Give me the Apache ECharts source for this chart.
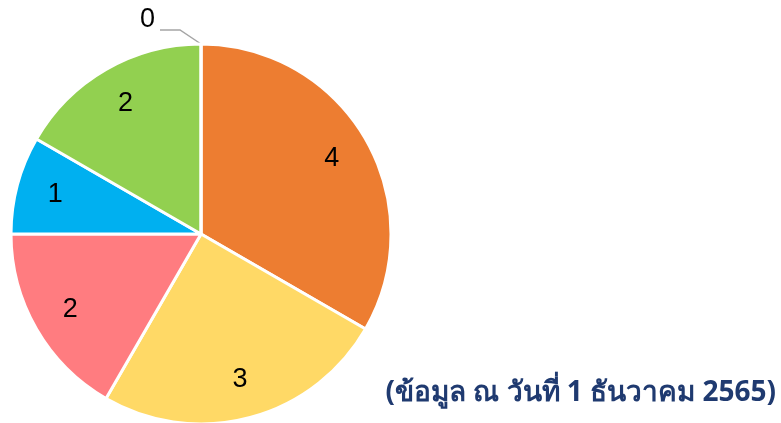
<!DOCTYPE html>
<html><head><meta charset="utf-8">
<script src="https://cdn.jsdelivr.net/npm/echarts@6/dist/echarts.min.js"></script>
<style>html,body{margin:0;padding:0;background:#fff}#c{width:781px;height:423px}</style>
</head><body><div id="c"></div>
<script>
const categories = ['A', 'B', 'C', 'D', 'E', 'F'];
const values = [4, 3, 2, 1, 2, 0];
const colors = ['#ED7D31', '#FFD966', '#FF7C80', '#00B0F0', '#92D050', '#A5A5A5'];
const note = '(ข้อมูล ณ วันที่ 1 ธันวาคม 2565)';

const chart = echarts.init(document.getElementById('c'));
const mainData = categories.map((c, i) => ({
  name: c, value: values[i],
  itemStyle: { color: colors[i] },
  label: values[i] === 0 ? { show: true } : { show: false },
  labelLine: values[i] === 0 ? { show: true } : { show: false }
}));
const overlayData = categories.map((c, i) => ({
  name: c, value: values[i],
  label: { show: values[i] !== 0 }
}));
const lblFont = 'Liberation Sans, Arial, sans-serif';
chart.setOption({
  animation: false,
  graphic: [{
    type: 'text', right: 5, top: 379,
    style: { text: note, fill: '#1F3A70', font: 'bold 28px Tahoma, "Noto Sans", "DejaVu Sans", sans-serif' }
  }],
  series: [{
    type: 'pie', center: [201, 234], radius: [0, 190], startAngle: 90, clockwise: true,
    data: mainData,
    itemStyle: { borderColor: '#fff', borderWidth: 3 },
    label: { position: 'outside', color: '#000', fontSize: 27, fontFamily: lblFont, formatter: '{c}' },
    labelLine: { length: 14, length2: 20, lineStyle: { color: '#A5A5A5', width: 1.5 } },
    labelLayout: function (p) {
      if (!p.labelLinePoints) return {};
      const pts = p.labelLinePoints;
      const s = 21;
      return {
        dx: -s,
        dy: -10,
        labelLinePoints: [pts[0], [pts[1][0] - s, pts[1][1]], [pts[2][0] - s, pts[2][1]]]
      };
    },
    emphasis: { disabled: true }, silent: true
  }, {
    type: 'pie', center: [201, 234], radius: [0, 296], startAngle: 90, clockwise: true,
    data: overlayData, silent: true,
    itemStyle: { color: 'rgba(0,0,0,0)' },
    label: { position: 'inside', color: '#000', fontSize: 27, fontFamily: lblFont, formatter: '{c}' },
    labelLine: { show: false },
    emphasis: { disabled: true }
  }]
});
</script></body></html>
